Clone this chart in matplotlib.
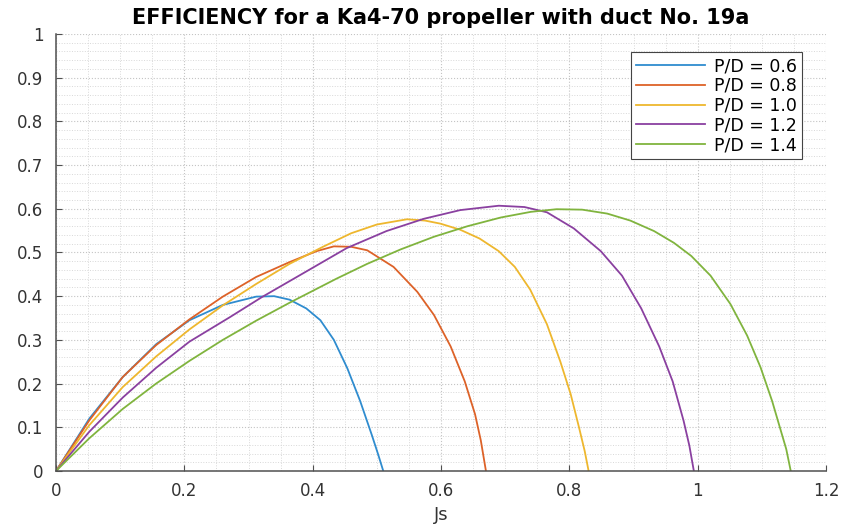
import matplotlib.pyplot as plt
from matplotlib.ticker import MultipleLocator

plt.rcParams["font.family"] = ["DejaVu Sans"]

# (Js, efficiency)
js_06 = [0.0, 0.052, 0.104, 0.156, 0.208, 0.260, 0.312, 0.340, 0.364, 0.390, 0.412, 0.433,
         0.454, 0.474, 0.492, 0.502, 0.510]
eta_06 = [0.0, 0.120, 0.215, 0.290, 0.345, 0.380, 0.399, 0.400, 0.392, 0.372, 0.345, 0.300,
          0.235, 0.160, 0.083, 0.038, 0.0]

js_08 = [0.0, 0.052, 0.104, 0.156, 0.208, 0.260, 0.312, 0.364, 0.406, 0.433, 0.460, 0.485,
         0.526, 0.563, 0.589, 0.615, 0.637, 0.653, 0.662, 0.670]
eta_08 = [0.0, 0.116, 0.215, 0.288, 0.347, 0.399, 0.444, 0.478, 0.503, 0.514, 0.513, 0.505,
          0.467, 0.410, 0.357, 0.285, 0.205, 0.130, 0.070, 0.0]

js_10 = [0.0, 0.052, 0.104, 0.156, 0.208, 0.260, 0.312, 0.364, 0.416, 0.460, 0.500, 0.547,
         0.575, 0.599, 0.630, 0.660, 0.690, 0.715, 0.739, 0.765, 0.786, 0.802, 0.815, 0.824, 0.830]
eta_10 = [0.0, 0.105, 0.192, 0.262, 0.324, 0.379, 0.428, 0.474, 0.513, 0.544, 0.564, 0.576,
          0.573, 0.566, 0.552, 0.532, 0.503, 0.467, 0.415, 0.336, 0.250, 0.176, 0.100, 0.045, 0.0]

js_12 = [0.0, 0.052, 0.104, 0.156, 0.208, 0.271, 0.321, 0.380, 0.453, 0.515, 0.573, 0.630,
         0.690, 0.730, 0.765, 0.807, 0.849, 0.882, 0.912, 0.940, 0.961, 0.978, 0.987, 0.994]
eta_12 = [0.0, 0.090, 0.168, 0.236, 0.296, 0.352, 0.398, 0.448, 0.510, 0.549, 0.577, 0.597,
          0.607, 0.604, 0.592, 0.555, 0.503, 0.447, 0.372, 0.285, 0.205, 0.115, 0.058, 0.0]

js_14 = [0.0, 0.052, 0.104, 0.156, 0.208, 0.260, 0.312, 0.364, 0.437, 0.485, 0.537, 0.589,
         0.641, 0.693, 0.740, 0.780, 0.820, 0.859, 0.895, 0.932, 0.963, 0.990, 1.020, 1.051,
         1.077, 1.098, 1.116, 1.128, 1.138, 1.145]
eta_14 = [0.0, 0.075, 0.142, 0.200, 0.252, 0.300, 0.344, 0.385, 0.440, 0.474, 0.507, 0.536,
          0.560, 0.580, 0.593, 0.599, 0.598, 0.589, 0.573, 0.549, 0.522, 0.492, 0.447, 0.382,
          0.310, 0.237, 0.160, 0.100, 0.050, 0.0]

labels = ["P/D = 0.6", "P/D = 0.8", "P/D = 1.0", "P/D = 1.2", "P/D = 1.4"]
colors = ["#2f8ccf", "#dd6228", "#eeb72e", "#8a40a0", "#80b43e"]


def main():

    fig = plt.figure(figsize=(8.46, 5.26), dpi=100)
    ax = fig.add_axes([0.0662, 0.1046, 0.9102, 0.8308])

    curves = [(js_06, eta_06), (js_08, eta_08), (js_10, eta_10), (js_12, eta_12), (js_14, eta_14)]
    for (js, eta), label, color in zip(curves, labels, colors):
        ax.plot(js, eta, color=color, linewidth=1.3, label=label)

    ax.set_xlim(0, 1.2)
    ax.set_ylim(0, 1)
    ax.xaxis.set_major_locator(MultipleLocator(0.2))
    ax.xaxis.set_minor_locator(MultipleLocator(0.05))
    ax.yaxis.set_major_locator(MultipleLocator(0.1))
    ax.yaxis.set_minor_locator(MultipleLocator(0.02))
    ax.xaxis.set_major_formatter(plt.FuncFormatter(lambda v, p: f"{v:g}"))
    ax.yaxis.set_major_formatter(plt.FuncFormatter(lambda v, p: f"{v:g}"))

    ax.grid(True, which="major", linestyle=":", color="#c4c4c4", linewidth=0.8)
    ax.grid(True, which="minor", linestyle=":", color="#d8d8d8", linewidth=0.7)
    ax.set_axisbelow(True)

    for side in ["top", "right"]:
        ax.spines[side].set_visible(False)
    for side in ["left", "bottom"]:
        ax.spines[side].set_color("#505050")
        ax.spines[side].set_linewidth(1.1)

    ax.tick_params(which="major", direction="in", length=4, color="#505050",
                   labelsize=12, labelcolor="#333333")
    ax.tick_params(axis="x", pad=8)
    ax.tick_params(axis="y", pad=9)
    ax.tick_params(which="minor", length=0)

    ax.set_title("EFFICIENCY for a Ka4-70 propeller with duct No. 19a",
                 fontsize=15, fontweight="bold", pad=7)
    ax.set_xlabel("Js", fontsize=13, color="#333333", labelpad=4)

    leg = ax.legend(loc="upper right", bbox_to_anchor=(0.969, 0.959), borderaxespad=0,
                    fontsize=12.5, handlelength=4.0, labelspacing=0.1, borderpad=0.3,
                    handletextpad=0.5, fancybox=False, framealpha=1)
    leg.get_frame().set_edgecolor("#444444")
    leg.get_frame().set_linewidth(0.8)

    fig.savefig("out.png", dpi=100)


if __name__ == "__main__":

    main()
